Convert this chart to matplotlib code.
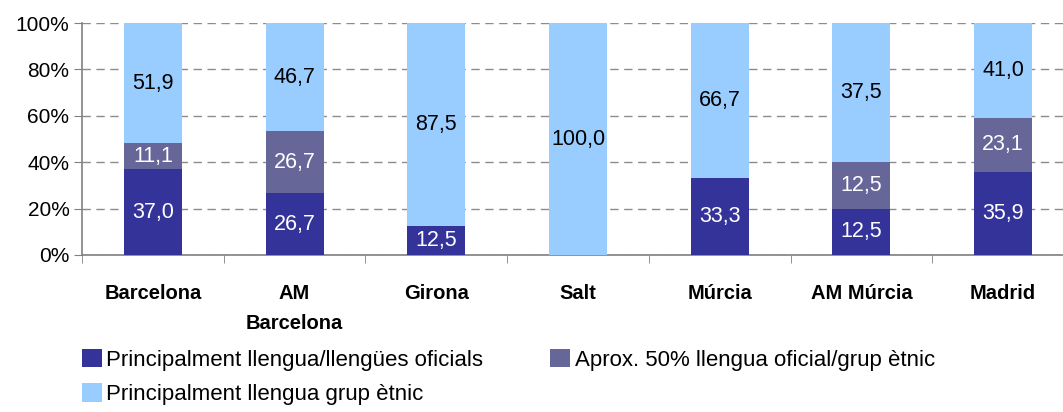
import numpy as np
import matplotlib
matplotlib.use("Agg")
import matplotlib.pyplot as plt
from matplotlib.patches import Patch

plt.rcParams['font.family'] = ['Liberation Sans', 'DejaVu Sans']

categories = ["Barcelona", "AM\nBarcelona", "Girona", "Salt", "Múrcia", "AM Múrcia", "Madrid"]
oficials = [37.0, 26.7, 12.5, 0.0, 33.3, 12.5, 35.9]
mixt = [11.1, 26.7, 0.0, 0.0, 0.0, 12.5, 23.1]
etnic = [51.9, 46.7, 87.5, 100.0, 66.7, 37.5, 41.0]
series_names = ["Principalment llengua/llengües oficials",
                "Aprox. 50% llengua oficial/grup ètnic",
                "Principalment llengua grup ètnic"]
ytick_labels = ["0%", "20%", "40%", "60%", "80%", "100%"]

colors = ["#333399", "#666699", "#99CCFF"]
text_colors = ["white", "white", "black"]

W, H = 1063, 412
fig = plt.figure(figsize=(W / 100, H / 100), dpi=100)
ax = fig.add_axes([82 / W, (H - 255) / H, 992 / W, 232 / H])

# 100% stacked: each column is normalised by its own total
data = np.array([oficials, mixt, etnic])
totals = data.sum(axis=0)
shares = data / totals * 100

x = np.arange(len(categories))
bottom = np.zeros(len(categories))
for i in range(3):
    ax.bar(x, shares[i], width=0.41, bottom=bottom, color=colors[i],
           edgecolor="none", zorder=3)
    for j in range(len(categories)):
        if data[i, j] > 0:
            ax.text(x[j], bottom[j] + shares[i, j] / 2,
                    f"{data[i, j]:.1f}".replace(".", ","),
                    ha="center", va="center", fontsize=15.5,
                    color=text_colors[i], zorder=4)
    bottom += shares[i]

ax.set_xlim(-0.5, len(categories) - 0.5)
ax.set_ylim(0, 100)
ax.set_yticks(np.arange(0, 101, 20))
ax.set_yticklabels(ytick_labels, fontsize=15)
ax.set_xticks(x)
ax.set_xticklabels(categories, fontsize=14.5, fontweight="bold", linespacing=1.75, va="top")
ax.set_xticks(np.arange(-0.5, len(categories)), minor=True)
ax.tick_params(axis="x", which="major", length=0, pad=21)
ax.tick_params(axis="x", which="minor", length=6, color="#808080", direction="out")
ax.tick_params(axis="y", length=6, color="#808080", direction="out", pad=3)

for s in ["top", "right"]:
    ax.spines[s].set_visible(False)
for s in ["left", "bottom"]:
    ax.spines[s].set_color("#808080")
    ax.spines[s].set_linewidth(1.2)

ax.yaxis.grid(True, color="#8c8c8c", linestyle=(0, (6, 4)), linewidth=1.0, zorder=0)
ax.set_axisbelow(True)

handles = [Patch(facecolor=c, edgecolor="none") for c in colors]
order = [0, 2, 1]
fig.legend([handles[k] for k in order], [series_names[k] for k in order],
           loc="upper left", bbox_to_anchor=(82 / W, (H - 349) / H), ncol=2,
           frameon=False, fontsize=16, handlelength=0.9, handleheight=0.9,
           handletextpad=0.2, columnspacing=3.0, labelspacing=0.55,
           borderaxespad=0, borderpad=0)

fig.savefig("out.png", dpi=100)
